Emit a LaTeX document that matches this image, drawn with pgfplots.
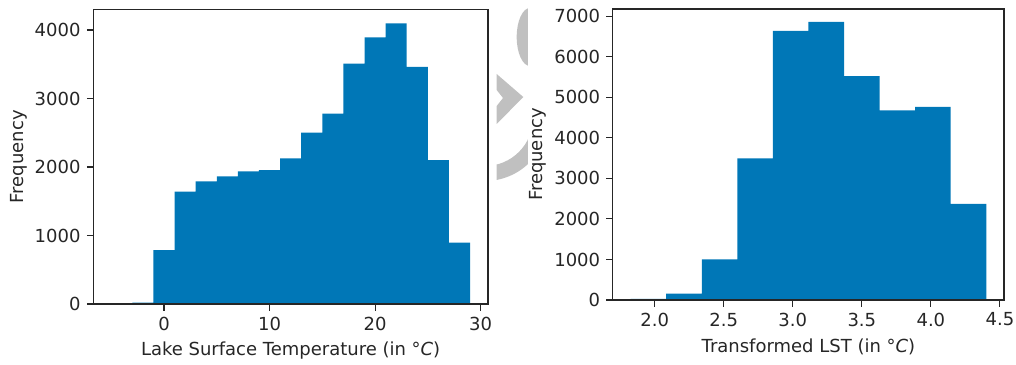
\documentclass[border=0pt]{standalone}
\usepackage{fontspec}
\setmainfont{DejaVu Sans}
\usepackage{pgfplots}
\pgfplotsset{compat=1.18}
\definecolor{barblue}{HTML}{0077B7}
\definecolor{deco}{HTML}{C0C0C0}
\definecolor{txt}{HTML}{262626}
\pgfplotsset{hist/.style={
  scale only axis, axis on top,
  axis line style={txt, line width=0.8bp},
  tick style={txt, line width=0.8bp},
  major tick length=4.7bp, tick align=outside,
  xtick pos=bottom, ytick pos=left,
  ymin=0,
  ticklabel style={text=txt},
  label style={text=txt},
  /pgf/number format/assume math mode=true,
  /pgf/number format/set thousands separator={},
}}
\begin{document}
\fontsize{13}{15.5}\selectfont
\begin{tikzpicture}
\path[use as bounding box] (0,0) rectangle (731.52bp,-262.8bp);
\begin{scope}[x=0.72bp,y=-0.72bp]
  \begin{scope}
    \clip (496.7,0) rectangle (528,130);
    \fill[deco] (530,37) ellipse [x radius=13.3, y radius=29];
  \end{scope}
  \fill[deco] (496.7,74) -- (523.3,97) -- (496.7,124) -- (496.7,106) -- (503,98) -- (496.7,90) -- cycle;
  \begin{scope}
    \clip (496.7,128) rectangle (528,200);
    \fill[deco, even odd rule] (485,118) circle [radius=63] (485,118) circle [radius=48];
  \end{scope}
\end{scope}
\begin{axis}[hist, at={(67.18bp,-218.88bp)}, anchor=south west,
  width=284.18bp, height=212.04bp,
  xmin=-6.7, xmax=30.7, ymax=4300,
  xtick={0,10,20,30}, ytick={0,1000,2000,3000,4000},
  xlabel={Lake Surface Temperature (in °\textit{C})}, ylabel={Frequency},
  xlabel style={at={(axis description cs:0.5,0)}, anchor=base, yshift=-37.4bp},
  ylabel style={at={(axis description cs:-0.1756,0.5)}, anchor=base}]
\addplot[fill=barblue, draw=none, const plot] coordinates {
(-3,20) (-1,788) (1,1640) (3,1791) (5,1864) (7,1937) (9,1956) (11,2127)
(13,2501) (15,2778) (17,3508) (19,3893) (21,4098) (23,3464) (25,2102)
(27,895) (29,895)} \closedcycle;
\end{axis}
\begin{axis}[hist, at={(441.29bp,-216bp)}, anchor=south west,
  width=281.59bp, height=209.52bp,
  xmin=1.6975, xmax=4.5295, ymax=7180,
  xtick={2,2.5,3,3.5,4,4.5}, ytick={0,1000,2000,3000,4000,5000,6000,7000},
  xticklabel style={/pgf/number format/.cd, fixed, fixed zerofill, precision=1},
  xlabel={Transformed LST (in °\textit{C})}, ylabel={Frequency},
  xlabel style={at={(axis description cs:0.5,0)}, anchor=base, yshift=-37.9bp},
  ylabel style={at={(axis description cs:-0.180,0.5)}, anchor=base}]
\addplot[fill=barblue, draw=none, const plot] coordinates {
(1.8260,30) (2.0835,155) (2.3410,1003) (2.5985,3493) (2.8560,6638)
(3.1135,6860) (3.3710,5521) (3.6285,4676) (3.8860,4766) (4.1435,2374)
(4.4010,2374)} \closedcycle;
\end{axis}
\end{tikzpicture}
\end{document}
